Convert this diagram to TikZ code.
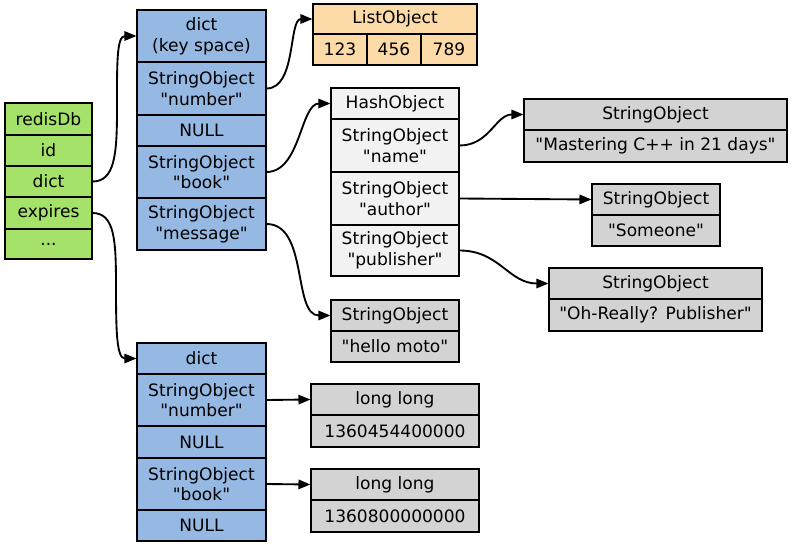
\documentclass[tikz,border=0pt]{standalone}
\usepackage{fontspec}
\setmainfont{DejaVu Sans}[Ligatures=TeXOff]
\usetikzlibrary{arrows.meta}
\definecolor{dbgreen}{HTML}{A5E26A}
\definecolor{dictblue}{HTML}{95B9E2}
\definecolor{listorange}{HTML}{FDDBA8}
\definecolor{hashgrey}{HTML}{F2F2F2}
\definecolor{strgrey}{HTML}{D3D3D3}
\tikzset{
  cell/.style={draw,rectangle,inner sep=0pt,align=center,line width=0.8pt,
    font=\fontsize{12.8}{15.5}\selectfont},
  link/.style={line width=1.4pt,-{Triangle[length=9pt,width=7pt]}}
}
\newcommand\rec[7]{\node[cell,fill=#2,minimum width={(#5-#3)*0.75pt},
  minimum height={(#6-#4)*0.75pt}] (#1) at ({(#3+#5)/2},{(#4+#6)/2}) {#7};}

\begin{document}
\begin{tikzpicture}[x=0.75pt,y=-0.75pt]
  \useasboundingbox (0,0) rectangle (792,545);
  \rec{db}{dbgreen}{5}{103}{92}{135}{redisDb}
  \rec{db-id}{dbgreen}{5}{135}{92}{166}{id}
  \rec{db-dict}{dbgreen}{5}{166}{92}{197}{dict}
  \rec{db-exp}{dbgreen}{5}{197}{92}{229}{expires}
  \rec{db-more}{dbgreen}{5}{229}{92}{259}{...}

  \rec{ks}{dictblue}{137}{10}{266}{62}{dict\\(key space)}
  \rec{ks-num}{dictblue}{137}{62}{266}{115}{StringObject\\"number"}
  \rec{ks-null}{dictblue}{137}{115}{266}{146}{NULL}
  \rec{ks-book}{dictblue}{137}{146}{266}{198}{StringObject\\"book"}
  \rec{ks-msg}{dictblue}{137}{198}{266}{250}{StringObject\\"message"}

  \rec{lst}{listorange}{313}{4}{477}{34}{ListObject}
  \rec{lst-a}{listorange}{313}{34}{367}{65}{123}
  \rec{lst-b}{listorange}{367}{34}{421}{65}{456}
  \rec{lst-c}{listorange}{421}{34}{477}{65}{789}

  \rec{hash}{hashgrey}{331}{88}{459}{119}{HashObject}
  \rec{hash-name}{hashgrey}{331}{119}{459}{172}{StringObject\\"name"}
  \rec{hash-author}{hashgrey}{331}{172}{459}{225}{StringObject\\"author"}
  \rec{hash-pub}{hashgrey}{331}{225}{459}{276}{StringObject\\"publisher"}

  \rec{name-h}{strgrey}{524}{99}{787}{130}{StringObject}
  \rec{name-v}{strgrey}{524}{130}{787}{162}{"Mastering C++ in 21 days"}
  \rec{author-h}{strgrey}{592}{184}{720}{215}{StringObject}
  \rec{author-v}{strgrey}{592}{215}{720}{246}{"Someone"}
  \rec{pub-h}{strgrey}{549}{268}{762}{299}{StringObject}
  \rec{pub-v}{strgrey}{549}{299}{762}{331}{"Oh-Really? Publisher"}
  \rec{msg-h}{strgrey}{331}{300}{459}{331}{StringObject}
  \rec{msg-v}{strgrey}{331}{331}{459}{362}{"hello moto"}

  \rec{ex}{dictblue}{137}{343}{266}{374}{dict}
  \rec{ex-num}{dictblue}{137}{374}{266}{426}{StringObject\\"number"}
  \rec{ex-null1}{dictblue}{137}{426}{266}{458}{NULL}
  \rec{ex-book}{dictblue}{137}{458}{266}{510}{StringObject\\"book"}
  \rec{ex-null2}{dictblue}{137}{510}{266}{541}{NULL}

  \rec{num-h}{strgrey}{311}{384}{479}{415}{long long}
  \rec{num-v}{strgrey}{311}{415}{479}{447}{1360454400000}
  \rec{book-h}{strgrey}{311}{469}{479}{500}{long long}
  \rec{book-v}{strgrey}{311}{500}{479}{532}{1360800000000}

  \draw[link] (db-dict.east) .. controls +(22,0) and +(0,45) .. (117,110)
    .. controls +(0,-45) and +(-20,0) .. (ks.west);
  \draw[link] (db-exp.east) .. controls +(22,0) and +(0,-45) .. (116,285)
    .. controls +(0,45) and +(-20,0) .. (ex.west);
  \draw[link] (ks-num.east) .. controls +(30,0) and +(-24,0) .. (lst.west);
  \draw[link] (ks-book.east) .. controls +(34,0) and +(-30,0) .. (hash.west);
  \draw[link] (ks-msg.east) .. controls +(42,0) and +(-38,0) .. (msg-h.west);
  \draw[link] (hash-name.east) .. controls +(30,0) and +(-28,0) .. (name-h.west);
  \draw[link] (hash-author.east) -- (author-h.west);
  \draw[link] (hash-pub.east) .. controls +(40,0) and +(-40,0) .. (pub-h.west);
  \draw[link] (ex-num.east) -- (num-h.west);
  \draw[link] (ex-book.east) -- (book-h.west);
\end{tikzpicture}
\end{document}
